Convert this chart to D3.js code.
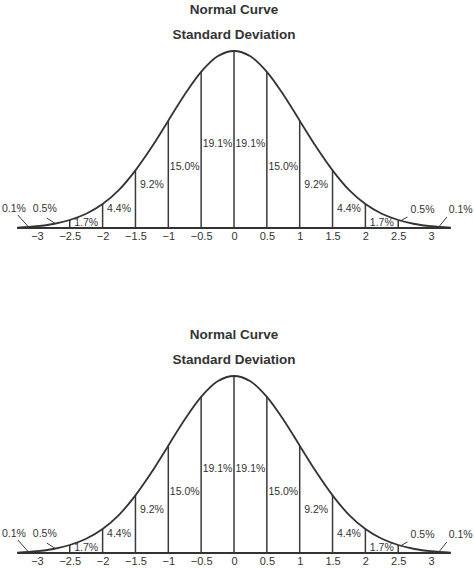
<!DOCTYPE html>
<html lang="en">
<head>
<meta charset="UTF-8">
<title>normal-curve</title>
<script src="https://cdn.jsdelivr.net/npm/d3@7"></script>
<style>
    body{ margin: 0; background: #fff; }
    svg{ display: block; }
    text{ font-family: "Liberation Sans", Arial, sans-serif; fill: #333; }
    .title{ font-weight: bold; font-size: 13.5px; }
    .pct{ font-size: 10.5px; }
    .axis text{ font-size: 11px; fill: #333; }
</style>
</head>
<body>
<svg id="chart"></svg>
<script>
    // data
    var titles = ["Normal Curve", "Standard Deviation"];
    var curveX = [-3.3, -3, -2.75, -2.5, -2.25, -2, -1.75, -1.5, -1.25, -1, -0.75, -0.5, -0.25, 0,
                  0.25, 0.5, 0.75, 1, 1.25, 1.5, 1.75, 2, 2.25, 2.5, 2.75, 3, 3.3];
    var curveY = [0.001, 0.004, 0.009, 0.018, 0.032, 0.054, 0.086, 0.130, 0.183, 0.242, 0.301, 0.352, 0.387, 0.399,
                  0.387, 0.352, 0.301, 0.242, 0.183, 0.130, 0.086, 0.054, 0.032, 0.018, 0.009, 0.004, 0.001];
    var tickValues = [-3, -2.5, -2, -1.5, -1, -0.5, 0, 0.5, 1, 1.5, 2, 2.5, 3];
    var dividers = [-2.5, -2, -1.5, -1, -0.5, 0, 0.5, 1, 1.5, 2, 2.5];
    var bandStart = [-3, -2.5, -2, -1.5, -1, -0.5, 0, 0.5, 1, 1.5, 2, 2.5];
    var bandPct = ["0.5%", "1.7%", "4.4%", "9.2%", "15.0%", "19.1%", "19.1%", "15.0%", "9.2%", "4.4%", "1.7%", "0.5%"];
    var tailPct = ["0.1%", "0.1%"];

    var width = 474, height = 569;
    var panelShift = 325;

    // layout: label baselines above the axis line
    var bandLabelDy = [-16, -2, -16, -40, -58, -81, -81, -58, -40, -16, -2, -16];

    var x = d3.scaleLinear().domain([-3.3, 3.3]).range([17.2, 450.8]);
    var y = d3.scaleLinear().domain([0, 0.399]).range([228, 51]);

    var pts = curveX.map(function (d, i) { return [d, curveY[i]]; });

    // value on the drawn curve (linear between read points)
    function densityAt(v) {
        var i = d3.bisectLeft(curveX, v);
        if (curveX[i] === v) return curveY[i];
        var t = (v - curveX[i - 1]) / (curveX[i] - curveX[i - 1]);
        return curveY[i - 1] + t * (curveY[i] - curveY[i - 1]);
    }

    var svg = d3.select('#chart').attr('width', width).attr('height', height);

    function drawPanel(offset) {
        var g = svg.append('g').attr('transform', 'translate(0,' + offset + ')');

        // titles
        g.selectAll('.title').data(titles).enter().append('text')
            .attr('class', 'title')
            .attr('x', x(0))
            .attr('y', function (d, i) { return 13.5 + i * 25; })
            .attr('text-anchor', 'middle')
            .text(function (d) { return d; });

        // dividers
        g.selectAll('.div').data(dividers).enter().append('line')
            .attr('x1', function (d) { return x(d); })
            .attr('x2', function (d) { return x(d); })
            .attr('y1', y(0))
            .attr('y2', function (d) { return y(densityAt(d)); })
            .attr('stroke', '#3a3a3a')
            .attr('stroke-width', 1.5);

        // baseline
        g.append('line')
            .attr('x1', x(-3.3)).attr('x2', x(3.3))
            .attr('y1', y(0)).attr('y2', y(0))
            .attr('stroke', '#333')
            .attr('stroke-width', 2);

        // curve
        var line = d3.line()
            .x(function (d) { return x(d[0]); })
            .y(function (d) { return y(d[1]); })
            .curve(d3.curveCatmullRom);
        g.append('path')
            .datum(pts)
            .attr('d', line)
            .attr('fill', 'none')
            .attr('stroke', '#333')
            .attr('stroke-width', 1.8);

        // band labels
        var inner = bandPct.map(function (p, i) { return { p: p, i: i }; })
            .filter(function (d) { return d.i > 0 && d.i < bandPct.length - 1; });
        g.selectAll('.pct-in').data(inner).enter().append('text')
            .attr('class', 'pct')
            .attr('x', function (d) { return x(bandStart[d.i] + 0.25); })
            .attr('y', function (d) { return y(0) + bandLabelDy[d.i]; })
            .attr('text-anchor', 'middle')
            .text(function (d) { return d.p; });

        // outer labels with leader lines
        var outer = [
            { p: bandPct[0], lx: -2.88, ly: -16, ax: -2.85, ay: -10, bx: -2.72 },
            { p: tailPct[0], lx: -3.35, ly: -16, ax: -3.29, ay: -13, bx: -3.13 },
            { p: bandPct[bandPct.length - 1], lx: 2.87, ly: -15, ax: 2.64, ay: -11, bx: 2.54 },
            { p: tailPct[1], lx: 3.45, ly: -15, ax: 3.24, ay: -11, bx: 3.12 }
        ];
        g.selectAll('.pct-out').data(outer).enter().append('text')
            .attr('class', 'pct')
            .attr('x', function (d) { return x(d.lx); })
            .attr('y', function (d) { return y(0) + d.ly; })
            .attr('text-anchor', 'middle')
            .text(function (d) { return d.p; });
        g.selectAll('.leader').data(outer).enter().append('line')
            .attr('x1', function (d) { return x(d.ax); })
            .attr('y1', function (d) { return y(0) + d.ay; })
            .attr('x2', function (d) { return x(d.bx); })
            .attr('y2', function (d) { return y(densityAt(d.bx)); })
            .attr('stroke', '#3a3a3a')
            .attr('stroke-width', 1);

        // axis labels
        var axis = d3.axisBottom(x)
            .tickValues(tickValues)
            .tickSize(0)
            .tickPadding(4)
            .tickFormat(d3.format('~g'));
        var ag = g.append('g')
            .attr('class', 'axis')
            .attr('transform', 'translate(0,' + y(0) + ')')
            .call(axis);
        ag.select('.domain').remove();
        ag.selectAll('text').attr('font-family', null).attr('font-size', null);
    }

    drawPanel(0);
    drawPanel(panelShift);
</script>
</body>
</html>
